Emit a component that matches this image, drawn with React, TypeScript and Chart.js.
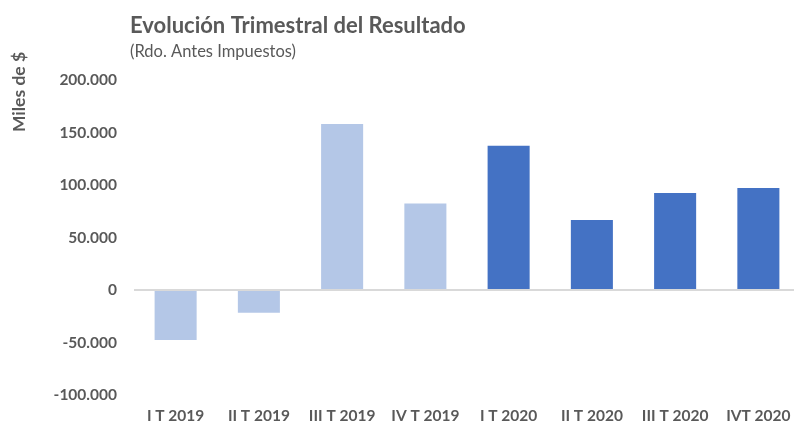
import React, { useEffect, useRef } from "react";
import { Chart, registerables } from "chart.js";

Chart.register(...registerables);

const categories = ["I T 2019", "II T 2019", "III T 2019", "IV T 2019", "I T 2020", "II T 2020", "III T 2020", "IVT 2020"];
const values = [-47600, -21600, 158100, 82500, 137400, 66700, 92400, 97100];
const barColors = ["#b4c7e7", "#b4c7e7", "#b4c7e7", "#b4c7e7", "#4472c4", "#4472c4", "#4472c4", "#4472c4"];
const titleText = "Evolución Trimestral del Resultado";
const subtitleText = "(Rdo. Antes Impuestos)";
const yTitleText = "Miles de $";

const GRAY = "#595959";
const FONT = "Lato, 'Open Sans', sans-serif";

function fmt(v: number): string {
  const neg = v < 0;
  const s = Math.abs(Math.round(v)).toString();
  const withDots = s.replace(/\B(?=(\d{3})+(?!\d))/g, ".");
  return (neg ? "-" : "") + withDots;
}

const textPlugin = {
  id: "texts",
  afterDraw(chart: any) {
    const ctx = chart.ctx;
    ctx.save();
    ctx.fillStyle = GRAY;
    ctx.textAlign = "left";
    ctx.textBaseline = "alphabetic";
    ctx.font = `bold 22px ${FONT}`;
    ctx.fillText(titleText, 130, 33);
    ctx.font = `16.5px ${FONT}`;
    ctx.fillText(subtitleText, 130, 57);
    ctx.translate(19, 92);
    ctx.rotate(-Math.PI / 2);
    ctx.textAlign = "center";
    ctx.textBaseline = "middle";
    ctx.font = `bold 17.5px ${FONT}`;
    ctx.fillText(yTitleText, 0, 0);
    ctx.restore();
  },
};

export default function App() {
  const ref = useRef<HTMLCanvasElement>(null);
  useEffect(() => {
    if (!ref.current) return;
    const chart = new Chart(ref.current, {
      type: "bar",
      data: {
        labels: categories,
        datasets: [
          {
            data: values,
            backgroundColor: barColors,
            borderWidth: 0,
            categoryPercentage: 1,
            barPercentage: 0.505,
          },
        ],
      },
      options: {
        animation: false,
        responsive: false,
        devicePixelRatio: 1,
        layout: { padding: { top: 80, right: 10, left: 0, bottom: 0 } },
        plugins: { legend: { display: false }, title: { display: false }, tooltip: { enabled: false } },
        scales: {
          x: {
            grid: { display: false, drawTicks: false },
            border: { display: false },
            ticks: { color: GRAY, font: { family: FONT, size: 15.5, weight: "bold" }, padding: 12, maxRotation: 0, autoSkip: false },
            afterFit: (s: any) => {
              s.height = 29;
            },
          },
          y: {
            min: -100000,
            max: 200000,
            grid: {
              drawTicks: false,
              lineWidth: 2,
              color: (c: any) => (c.tick && c.tick.value === 0 ? "#d9d9d9" : "rgba(0,0,0,0)"),
            },
            border: { display: false },
            ticks: {
              stepSize: 50000,
              color: GRAY,
              padding: 17,
              font: { family: FONT, size: 15.5, weight: "bold" },
              callback: (v: any) => fmt(Number(v)),
            },
            afterFit: (s: any) => {
              s.width = 134;
            },
          },
        },
      },
      plugins: [textPlugin],
    });
    return () => chart.destroy();
  }, []);
  return (
    <div style={{ position: "fixed", left: 0, top: 0, width: 810, height: 424, background: "#fff" }}>
      <canvas ref={ref} width={810} height={424} />
    </div>
  );
}
